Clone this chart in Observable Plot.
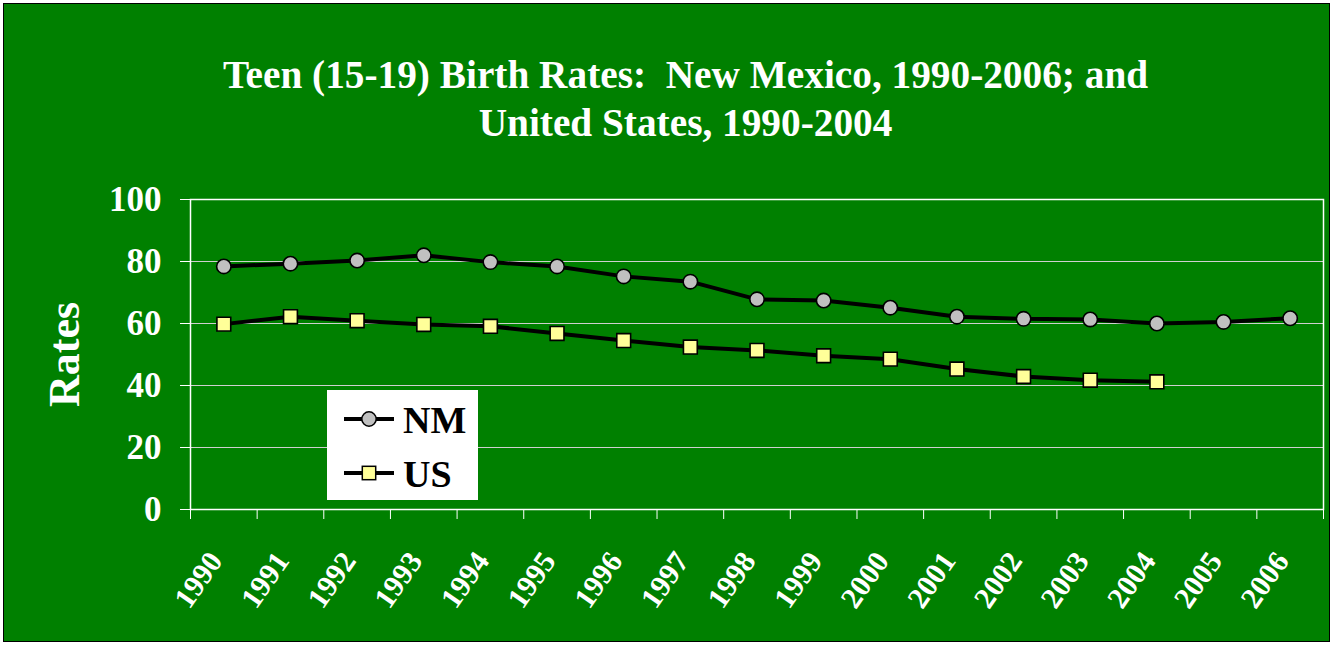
<!DOCTYPE html>
<html><head><meta charset="utf-8">
<script src="https://cdn.jsdelivr.net/npm/d3@7"></script>
<script src="https://cdn.jsdelivr.net/npm/@observablehq/plot@0.6"></script>
<style>
html,body{margin:0;padding:0;background:#fff;}
#wrap{position:relative;width:1333px;height:645px;overflow:hidden;}
#bg{position:absolute;left:3px;top:3px;width:1327px;height:639px;background:#008000;border:1px solid #000;box-sizing:border-box;}
#chart{position:absolute;left:0;top:0;}
#legend{position:absolute;left:327px;top:390px;width:151px;height:110px;background:#fff;}
</style></head><body>
<div id="wrap"><div id="bg"></div><div id="chart"></div><div id="legend"></div></div>
<script>
const years = [1990,1991,1992,1993,1994,1995,1996,1997,1998,1999,2000,2001,2002,2003,2004,2005,2006];
const nmRates = [78.4,79.3,80.3,82.0,79.8,78.4,75.2,73.5,67.8,67.4,65.1,62.2,61.5,61.3,60.0,60.5,61.7];
const usRates = [59.8,62.2,60.9,59.7,59.1,56.8,54.5,52.4,51.3,49.6,48.5,45.3,42.9,41.7,41.2];
const yTicks = [0,20,40,60,80,100];
const titleLines = ["Teen (15-19) Birth Rates:\u00a0 New Mexico, 1990-2006; and", "United States, 1990-2004"];
const yLabel = "Rates";
const seriesNames = ["NM","US"];

const FONT = "'Liberation Serif','Times New Roman',serif";
const nm = years.map((y,i)=>({year:y, rate:nmRates[i]}));
const us = usRates.map((r,i)=>({year:years[i], rate:r}));
const boundaries = years.map(y=>y-0.5).concat([years[years.length-1]+0.5]);

const chart = Plot.plot({
  width:1333, height:645,
  marginLeft:190, marginRight:10, marginTop:199, marginBottom:136,
  style:{background:"transparent", color:"white", fontFamily:FONT, fontWeight:"bold", overflow:"visible"},
  x:{type:"linear", domain:[years[0]-0.5, years[years.length-1]+0.5], label:null},
  y:{domain:[0,100], label:null},
  marks:[
    Plot.gridY(yTicks.filter(t=>t>0 && t<100), {stroke:"#cfcfcf", strokeOpacity:1, strokeWidth:1}),
    Plot.frame({stroke:"white", strokeWidth:1.5}),
    Plot.axisY(yTicks, {tickSize:10, tickPadding:19, fontSize:35, fontFamily:FONT, fontWeight:"bold", stroke:"white", fill:"white", label:null}),
    Plot.axisX(boundaries, {tickSize:10, tickFormat:()=>"", stroke:"white", label:null}),
    Plot.axisX(years, {tickSize:0, tickPadding:46, dx:-8, tickRotate:-55, tickFormat:d=>String(d), fontSize:30, fontFamily:FONT, fontWeight:"bold", fill:"white", label:null}),
    Plot.text([titleLines.join("\n")], {frameAnchor:"top", dx:-71.5, dy:-146, lineAnchor:"top", lineHeight:1.23, fontSize:39.3, fontFamily:FONT, fontWeight:"bold", fill:"white"}),
    Plot.text([yLabel], {frameAnchor:"left", dx:-126, rotate:-90, textAnchor:"middle", fontSize:44, fontFamily:FONT, fontWeight:"bold", fill:"white", lineAnchor:"middle"}),
    Plot.lineY(nm, {x:"year", y:"rate", stroke:"black", strokeWidth:4}),
    Plot.lineY(us, {x:"year", y:"rate", stroke:"black", strokeWidth:4}),
    Plot.dot(nm, {x:"year", y:"rate", r:7.2, symbol:"circle", fill:"#c0c0c0", stroke:"black", strokeWidth:1.6}),
    Plot.dot(us, {x:"year", y:"rate", r:7.8, symbol:"square", fill:"#ffff99", stroke:"black", strokeWidth:1.6})
  ]
});
document.getElementById("chart").appendChild(chart);

// legend
const lg = d3.select("#legend").append("svg").attr("width",151).attr("height",110)
  .style("font-family",FONT).style("font-weight","bold");
const rows = [{name:seriesNames[0], sym:"circle", fill:"#c0c0c0", y:29, by:43},
              {name:seriesNames[1], sym:"square", fill:"#ffff99", y:83, by:97}];
rows.forEach(r=>{
  lg.append("line").attr("x1",17).attr("x2",67).attr("y1",r.y).attr("y2",r.y).attr("stroke","black").attr("stroke-width",4);
  if (r.sym==="circle") lg.append("circle").attr("cx",42).attr("cy",r.y).attr("r",7.2).attr("fill",r.fill).attr("stroke","black").attr("stroke-width",1.5);
  else lg.append("rect").attr("x",42-6.7).attr("y",r.y-6.7).attr("width",13.4).attr("height",13.4).attr("fill",r.fill).attr("stroke","black").attr("stroke-width",1.5);
  lg.append("text").attr("x",76).attr("y",r.by).attr("font-size",38).attr("fill","black").text(r.name);
});
</script>
</body></html>
